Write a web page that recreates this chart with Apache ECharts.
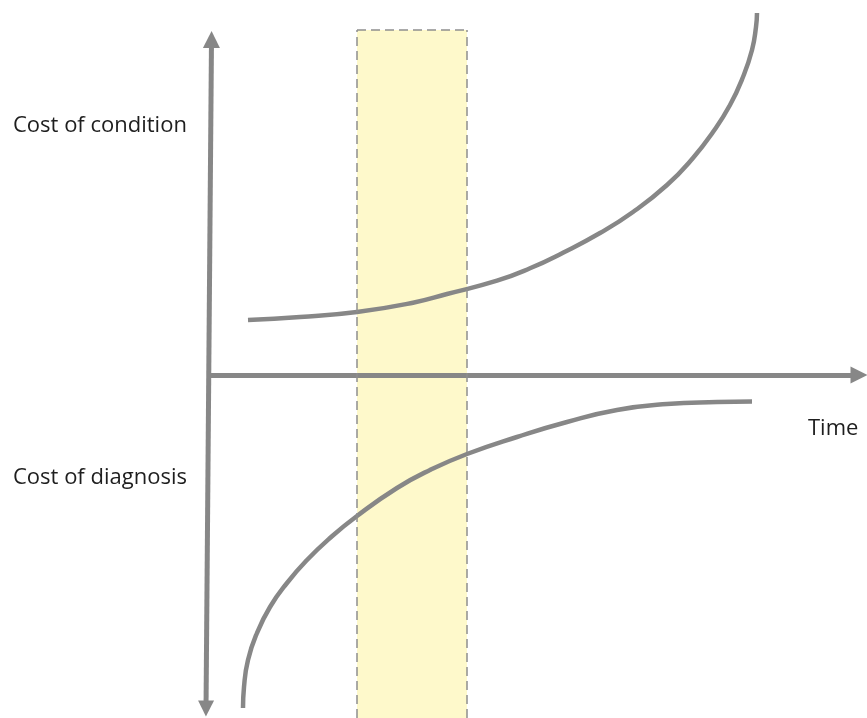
<!DOCTYPE html>
<html>
<head>
<meta charset="utf-8">
<script src="https://cdn.jsdelivr.net/npm/echarts@6/dist/echarts.min.js"></script>
<style>
  html, body { margin: 0; padding: 0; background: #ffffff; }
  #chart { width: 867px; height: 718px; }
</style>
</head>
<body>
<div id="chart"></div>
<script>
// Conceptual diagram: time (x) against cost (y); origin where the axes cross.
var labelCondition = 'Cost of condition';
var labelDiagnosis = 'Cost of diagnosis';
var labelTime = 'Time';

// Cost of condition curve (rises steeply with time)
var conditionTime = [38, 90, 147, 203, 237, 287, 320, 353, 390, 423, 457, 483, 503, 520, 533, 542, 546, 547];
var conditionCost = [55, 58, 63, 72.3, 81, 94.3, 106.7, 122.3, 142, 163, 190, 217, 243, 270, 298, 325, 348, 362];

// Cost of diagnosis curve (plotted below the time axis, flattens over time)
var diagnosisTime = [33, 34, 38, 47, 60, 77, 97, 120, 147, 187, 220, 257, 307, 357, 407, 457, 507, 542];
var diagnosisCost = [-333, -312, -285, -258, -232, -208, -185, -163, -141, -113, -95, -79, -62, -47, -35, -29, -27, -26.5];

// Highlighted time window
var windowStart = 147;
var windowEnd = 257;
var windowTop = 345;
var windowBottom = -343;

// Axis arrows (data coordinates)
var timeAxisFrom = [0, 0];
var timeAxisTo = [649, 0];
var costAxisTop = [1.5, 335.5];
var costAxisBottom = [-4, -333.5];

function zip(a, b) { return a.map(function (v, i) { return [v, b[i]]; }); }

var GREY = '#878787';
var DASH = { color: '#8f8f8f', width: 1.5, type: [9, 5] };
var chart = echarts.init(document.getElementById('chart'));
chart.setOption({
  animation: false,
  backgroundColor: '#ffffff',
  grid: { left: 0, right: 0, top: 0, bottom: 0 },
  xAxis: { type: 'value', min: -210, max: 657, show: false },
  yAxis: { type: 'value', min: -343, max: 375, show: false },
  series: [
    {
      type: 'line',
      data: [],
      z: 1,
      markArea: {
        silent: true,
        itemStyle: { color: '#fef9cb', borderWidth: 0 },
        data: [[{ coord: [windowStart, windowTop] }, { coord: [windowEnd, windowBottom] }]]
      },
      markLine: {
        silent: true,
        symbol: ['none', 'none'],
        label: { show: false },
        lineStyle: DASH,
        data: [
          [{ coord: [windowStart, windowBottom] }, { coord: [windowStart, windowTop] }],
          [{ coord: [windowEnd, windowBottom] }, { coord: [windowEnd, windowTop] }],
          [{ coord: [windowStart, windowTop] }, { coord: [windowEnd, windowTop] }]
        ]
      }
    },
    {
      type: 'lines',
      coordinateSystem: 'cartesian2d',
      z: 3,
      symbol: ['none', 'triangle'],
      symbolSize: [16, 17],
      lineStyle: { color: GREY, width: 5, opacity: 1 },
      data: [{ coords: [timeAxisFrom, timeAxisTo] }]
    },
    {
      type: 'lines',
      coordinateSystem: 'cartesian2d',
      z: 3,
      symbol: ['triangle', 'triangle'],
      symbolSize: [16, 17],
      lineStyle: { color: GREY, width: 5, opacity: 1 },
      data: [{ coords: [costAxisBottom, costAxisTop] }]
    },
    {
      type: 'line',
      z: 4,
      clip: false,
      data: zip(conditionTime, conditionCost),
      smooth: 0.5,
      symbol: 'none',
      lineStyle: { color: GREY, width: 4.5 }
    },
    {
      type: 'line',
      z: 4,
      clip: false,
      data: zip(diagnosisTime, diagnosisCost),
      smooth: 0.5,
      symbol: 'none',
      lineStyle: { color: GREY, width: 4.5 }
    }
  ],
  graphic: [
    { type: 'text', x: 13, y: 126, style: { text: labelCondition, fill: '#1e1e1e', font: '22px "Open Sans"', verticalAlign: 'middle' } },
    { type: 'text', x: 13, y: 478, style: { text: labelDiagnosis, fill: '#1e1e1e', font: '22px "Open Sans"', verticalAlign: 'middle' } },
    { type: 'text', x: 808, y: 429, style: { text: labelTime, fill: '#1e1e1e', font: '22px "Open Sans"', verticalAlign: 'middle' } }
  ]
});
</script>
</body>
</html>
